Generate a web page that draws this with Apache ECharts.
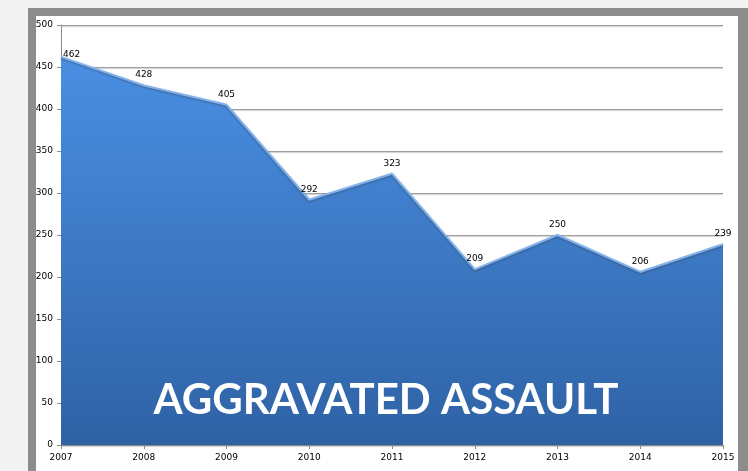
<!DOCTYPE html>
<html>
<head>
<meta charset="utf-8">
<script src="https://cdn.jsdelivr.net/npm/echarts@6/dist/echarts.min.js"></script>
<style>
  html, body { margin: 0; padding: 0; background: #f3f3f3; }
  #chart { width: 748px; height: 471px; }
</style>
</head>
<body>
<div id="chart"></div>
<script>
var years = ["2007", "2008", "2009", "2010", "2011", "2012", "2013", "2014", "2015"];
var assaults = [462, 428, 405, 292, 323, 209, 250, 206, 239];
var chartTitle = "AGGRAVATED ASSAULT";

var chart = echarts.init(document.getElementById("chart"));
// first label sits to the right of the point, as in the original
var seriesData = assaults.map(function (v, i) {
  if (i === 0) {
    return { value: v, label: { position: "right", distance: 1, offset: [0, -2] } };
  }
  return v;
});
var option = {
  animation: false,
  backgroundColor: "#f3f3f3",
  graphic: [
    { type: "rect", z: -10, shape: { x: 28, y: 8, width: 720, height: 463 }, style: { fill: "#8d8d8d" } },
    { type: "rect", z: -9, shape: { x: 36, y: 16, width: 702, height: 455 }, style: { fill: "#ffffff" } },
    {
      type: "text", z: 100, x: 386, y: 379,
      style: {
        text: chartTitle, fill: "#ffffff", textAlign: "center",
        font: "bold 42px Lato, 'Open Sans', sans-serif"
      }
    }
  ],
  grid: { left: 61, right: 25, top: 25, bottom: 26 },
  xAxis: {
    type: "category",
    data: years,
    boundaryGap: false,
    axisLine: { lineStyle: { color: "#8a8a8a" } },
    axisTick: { show: true, length: 4, lineStyle: { color: "#8a8a8a" } },
    axisLabel: { color: "#000", fontSize: 9, margin: 8, fontFamily: "'DejaVu Sans', sans-serif" }
  },
  yAxis: {
    type: "value",
    min: 0, max: 500, interval: 50,
    axisLine: { show: true, lineStyle: { color: "#8a8a8a" } },
    axisTick: { show: true, length: 4, lineStyle: { color: "#8a8a8a" } },
    axisLabel: { color: "#000", fontSize: 9, margin: 8, fontFamily: "'DejaVu Sans', sans-serif" },
    splitLine: {
      lineStyle: { color: "#a0a0a0", width: 1, shadowColor: "rgba(0,0,0,0.2)", shadowOffsetY: 1, shadowBlur: 1 }
    }
  },
  series: [
    {
      type: "line",
      data: seriesData,
      symbol: "circle",
      symbolSize: 2,
      showSymbol: true,
      itemStyle: { color: "rgba(0,0,0,0)", borderWidth: 0 },
      lineStyle: {
        color: "#7fb2ee", width: 2,
        shadowColor: "rgba(60,60,60,0.5)", shadowBlur: 2, shadowOffsetY: 1
      },
      areaStyle: {
        opacity: 1,
        color: new echarts.graphic.LinearGradient(0, 0, 0, 1, [
          { offset: 0, color: "#4a8fe3" },
          { offset: 1, color: "#2f62a5" }
        ])
      },
      label: {
        show: true, position: "top", distance: 5,
        color: "#000", fontSize: 9, fontFamily: "'DejaVu Sans', sans-serif"
      }
    }
  ]
};
chart.setOption(option);
</script>
</body>
</html>
